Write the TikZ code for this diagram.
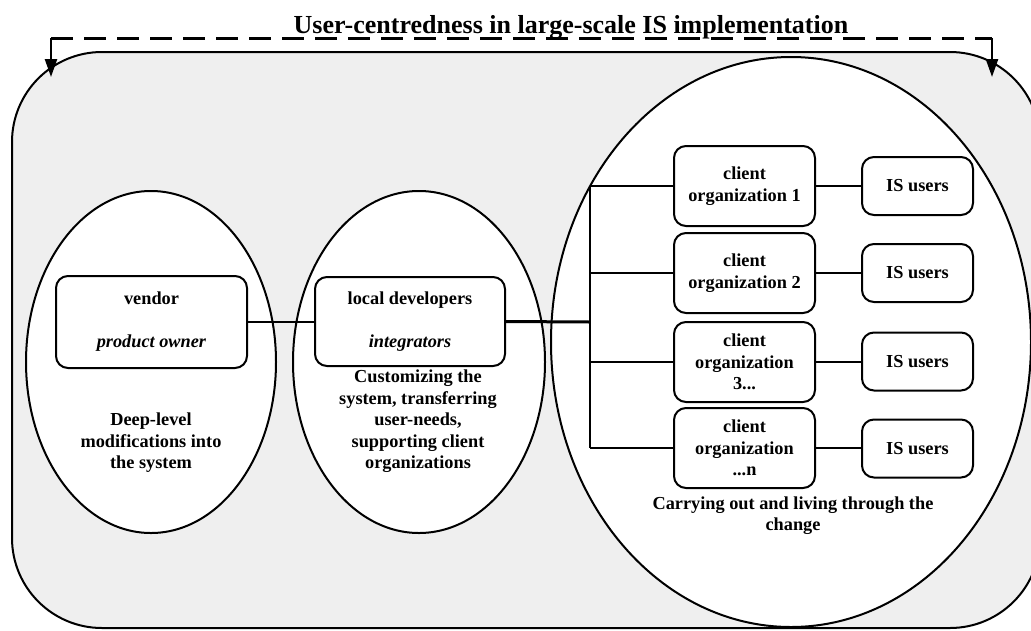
\documentclass[tikz,border=0pt]{standalone}
\usepackage{fontspec}
\setmainfont{Liberation Serif}
\usetikzlibrary{arrows.meta,shapes.geometric}
\definecolor{framegray}{HTML}{EFEFEF}
\begin{document}
\begin{tikzpicture}[x=1pt,y=-1pt,
  every node/.style={font=\fontsize{18.3}{21.5}\selectfont\bfseries, inner sep=0pt},
  frame/.style={draw, line width=2pt, fill=framegray, rounded corners=90pt, minimum width=1028pt, minimum height=576pt},
  group/.style={ellipse, draw, line width=2pt, fill=white},
  rbox/.style={draw, line width=2pt, fill=white, rounded corners=12pt, align=center},
  orgbox/.style={rbox, minimum width=141pt, minimum height=80pt},
  userbox/.style={rbox, minimum width=111pt, minimum height=58pt},
  desc/.style={align=center},
  link/.style={line width=2pt},
  trunk/.style={line width=3pt},
  dashlink/.style={line width=3pt, dash pattern=on 22pt off 11pt},
  arrowlink/.style={line width=2.5pt, -{Triangle[length=18pt,width=12pt]}}
]
\useasboundingbox (0,0) rectangle (1031,630);
\node[frame] (frame) at (526,340) {};
\node[group, minimum width=250pt, minimum height=342pt] (g1) at (151,362) {};
\node[group, minimum width=252pt, minimum height=342pt] (g2) at (419,362) {};
\node[group, minimum width=480pt, minimum height=570pt] (g3) at (791,342) {};

\node[font=\fontsize{26}{30}\selectfont\bfseries, anchor=base] (title) at (571,33) {User-centredness in large-scale IS implementation};
\coordinate (tl) at (51,38);
\coordinate (tr) at (992,38);
\coordinate (al) at (51,77);
\coordinate (ar) at (992,77);
\draw[dashlink] (tl) -- (tr);
\draw[arrowlink] (tl) -- (al);
\draw[arrowlink] (tr) -- (ar);

\node[rbox, minimum width=191pt, minimum height=92pt] (vendor) at (151.5,322) {vendor\\[21.5pt]\textit{product owner}};
\node[rbox, minimum width=190pt, minimum height=89pt] (ld) at (410,321.5) {local developers\\[21.5pt]\textit{integrators}};

\node[orgbox] (c1) at (744.5,186) {client\\organization 1};
\node[orgbox] (c2) at (744.5,273) {client\\organization 2};
\node[orgbox] (c3) at (744.5,362) {client\\organization\\3...};
\node[orgbox] (c4) at (744.5,448) {client\\organization\\...n};

\node[userbox] (u1) at (917.5,186) {IS users};
\node[userbox] (u2) at (917.5,273) {IS users};
\node[userbox] (u3) at (917.5,361.5) {IS users};
\node[userbox] (u4) at (917.5,448.5) {IS users};

\node[desc] (d1) at (151,443) {Deep-level\\modifications into\\the system};
\node[desc] (d2) at (418,421.5) {Customizing the\\system, transferring\\user-needs,\\supporting client\\organizations};
\node[desc] (d3) at (793,515.5) {Carrying out and living through the\\change};

\coordinate (j) at (590,322);
\draw[link] (vendor.east) -- (vendor.east -| ld.west);
\draw[trunk] (ld.east) -- (j);
\draw[link] (j |- c1.west) -- (j |- c4.west);
\foreach \i in {1,2,3,4}{
  \draw[link] (j |- c\i.west) -- (c\i.west);
  \draw[link] (c\i.east) -- (c\i.east -| u\i.west);
}
\end{tikzpicture}
\end{document}
